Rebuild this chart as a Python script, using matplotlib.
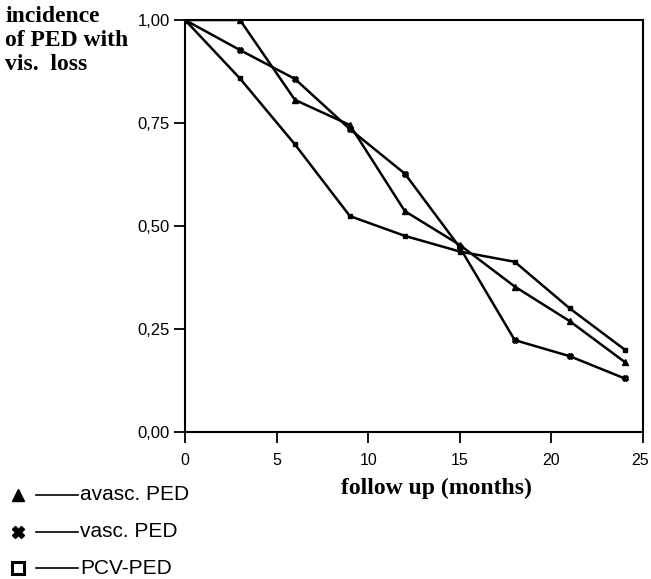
import matplotlib
matplotlib.use('Agg')
import matplotlib.pyplot as plt
import matplotlib.transforms as mtransforms
from matplotlib.lines import Line2D

# follow-up months and incidence per group
months = [0, 3, 6, 9, 12, 15, 18, 21, 24]
avasc = [1.00, 1.00, 0.806, 0.745, 0.536, 0.454, 0.353, 0.269, 0.17]
vasc = [1.00, 0.927, 0.857, 0.735, 0.627, 0.448, 0.223, 0.184, 0.13]
pcv = [1.00, 0.858, 0.698, 0.524, 0.476, 0.438, 0.413, 0.30, 0.20]

x_ticks = [0, 5, 10, 15, 20, 25]
y_ticks = [0.0, 0.25, 0.5, 0.75, 1.0]
y_labels = ['0,00', '0,25', '0,50', '0,75', '1,00']
legend_names = ['avasc. PED', 'vasc. PED', 'PCV-PED']

fig = plt.figure(figsize=(6.51, 5.79), dpi=100)
ax = fig.add_axes([0.2842, 0.2539, 0.7035, 0.7116])

ax.plot(months, avasc, color='black', lw=1.8, marker='^', ms=4)
ax.plot(months, vasc, color='black', lw=1.8, marker='X', ms=4)
ax.plot(months, pcv, color='black', lw=1.8, marker='s', ms=3.5)

ax.set_xlim(0, 25)
ax.set_ylim(0, 1.0)
ax.set_xticks(x_ticks)
ax.set_xticklabels([str(t) for t in x_ticks], fontsize=11.5, family='Liberation Sans')
ax.set_yticks(y_ticks)
ax.set_yticklabels(y_labels, fontsize=12, family='Liberation Sans')
ax.tick_params(direction='out', length=8, width=1.3)
ax.tick_params(axis='x', pad=7)
ax.tick_params(axis='y', pad=3)
for sp in ax.spines.values():
    sp.set_linewidth(1.5)

# keep the last x label inside the figure
last = ax.get_xticklabels()[-1]
last.set_transform(last.get_transform() +
                   mtransforms.ScaledTranslation(-3 / 100, 0, fig.dpi_scale_trans))

ax.set_xlabel('follow up (months)', fontsize=17, fontweight='bold',
              family='Liberation Serif')
ax.xaxis.set_label_coords(0.55, -0.11)

fig.text(0.008, 0.99, 'incidence\nof PED with\nvis.  loss', ha='left', va='top',
         fontsize=17, fontweight='bold', family='Liberation Serif', linespacing=1.2)

# legend drawn by hand: marker, short line, name
markers = [('^', 'black', 9), ('X', 'black', 9), ('s', 'white', 8)]
for i, (name, (m, fc, s)) in enumerate(zip(legend_names, markers)):
    y = 1 - (495 + 36.5 * i) / 579
    fig.add_artist(Line2D([18 / 651], [y], marker=m, ms=s, mfc=fc, mec='black',
                          mew=2.2 if m == 's' else 1, transform=fig.transFigure))
    fig.add_artist(Line2D([36 / 651, 78 / 651], [y, y], color='black', lw=1.2,
                          transform=fig.transFigure))
    fig.text(80 / 651, y, name, ha='left', va='center', fontsize=15,
             family='Liberation Sans')

fig.savefig('out.png', dpi=100)
